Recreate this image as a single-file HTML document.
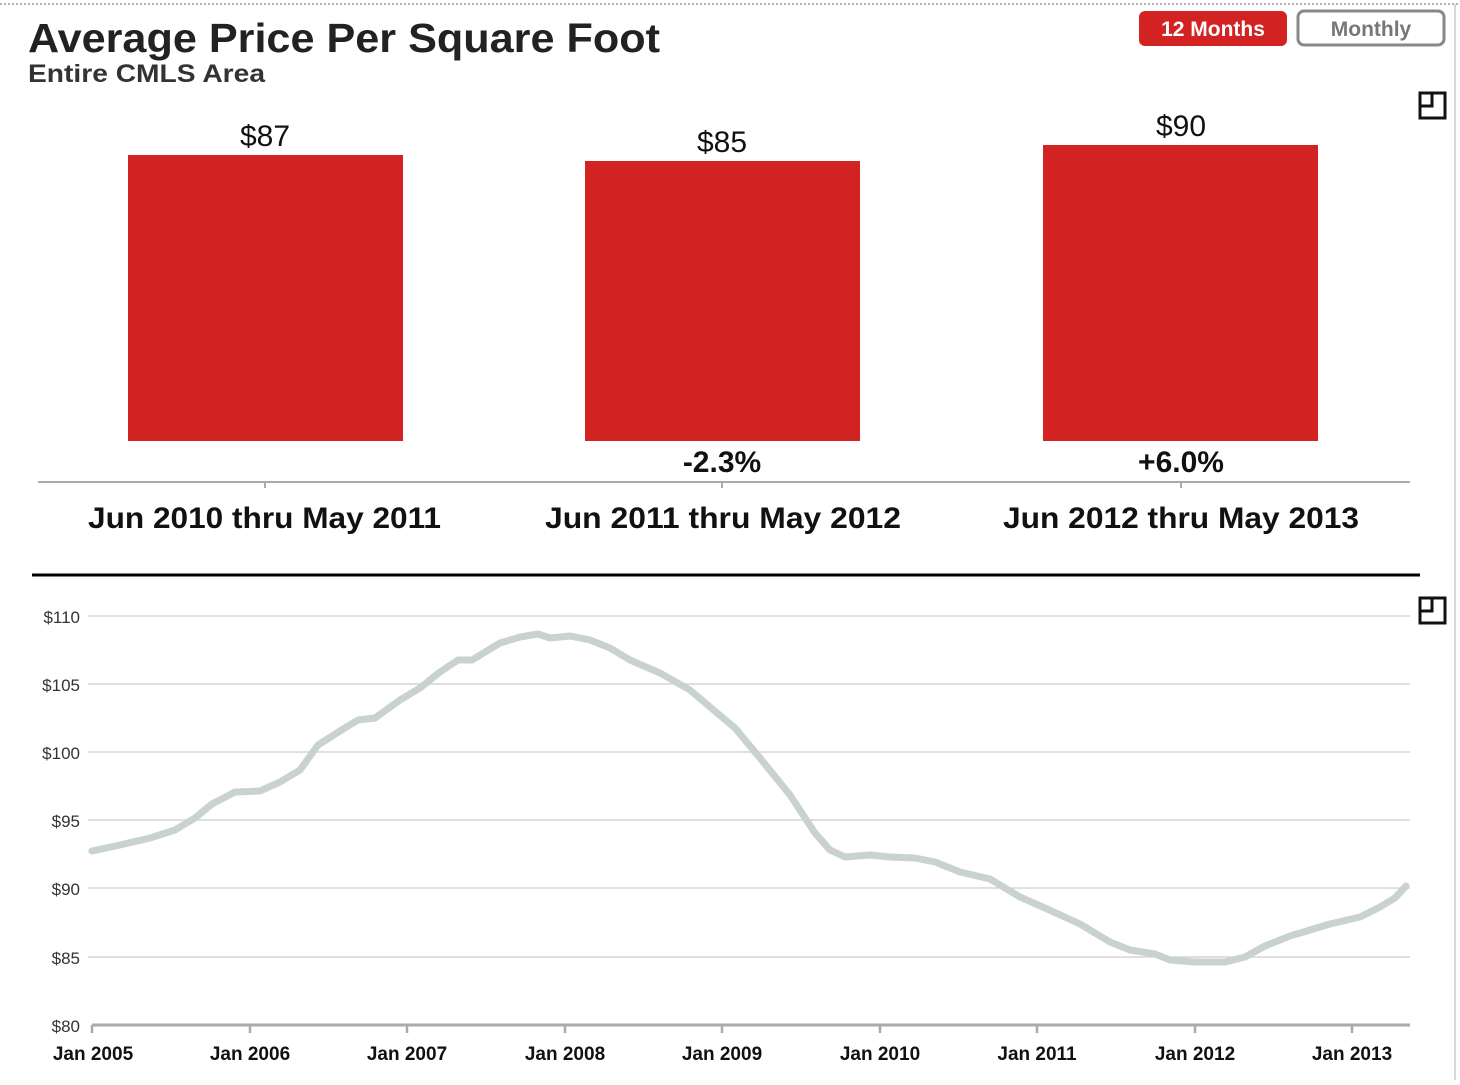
<!DOCTYPE html>
<html><head><meta charset="utf-8"><style>
body{margin:0;width:1460px;height:1080px;background:#fff;overflow:hidden;font-family:"Liberation Sans",sans-serif;}
</style></head><body>
<svg width="1460" height="1080" xmlns="http://www.w3.org/2000/svg" font-family="Liberation Sans, sans-serif">
<line x1="0" y1="4" x2="1460" y2="4" stroke="#999" stroke-width="1.5" stroke-dasharray="2,2"/>
<line x1="1455" y1="4" x2="1455" y2="1080" stroke="#ccc" stroke-width="1.5"/>
<text x="28" y="52" font-size="41" font-weight="bold" fill="#222" textLength="632" lengthAdjust="spacingAndGlyphs">Average Price Per Square Foot</text>
<text x="28" y="82" font-size="25" font-weight="bold" fill="#333" textLength="237" lengthAdjust="spacingAndGlyphs">Entire CMLS Area</text>
<rect x="1139" y="11" width="148" height="35" rx="6" fill="#d22222"/>
<text x="1213" y="36" font-size="21" font-weight="bold" fill="#fff" text-anchor="middle">12 Months</text>
<rect x="1298" y="11" width="146" height="34" rx="6" fill="#fff" stroke="#888" stroke-width="3"/>
<text x="1371" y="36" font-size="21" font-weight="bold" fill="#777" text-anchor="middle">Monthly</text>
<g fill="none" stroke="#111" stroke-width="3">
<rect x="1420" y="93" width="25" height="25"/><polyline points="1420,106 1432,106 1432,93"/>
<rect x="1420" y="598" width="25" height="25"/><polyline points="1420,611 1432,611 1432,598"/>
</g>
<rect x="128" y="155" width="275" height="286" fill="#d22222"/>
<rect x="585" y="161" width="275" height="280" fill="#d22222"/>
<rect x="1043" y="145" width="275" height="296" fill="#d22222"/>
<g font-size="30" fill="#111" text-anchor="middle">
<text x="265" y="146">$87</text><text x="722" y="152">$85</text><text x="1181" y="136">$90</text>
</g>
<g font-size="30" font-weight="bold" fill="#111">
<text x="722" y="472" text-anchor="middle">-2.3%</text><text x="1181" y="472" text-anchor="middle">+6.0%</text>
<text x="88" y="528" textLength="353" lengthAdjust="spacingAndGlyphs">Jun 2010 thru May 2011</text>
<text x="545" y="528" textLength="356" lengthAdjust="spacingAndGlyphs">Jun 2011 thru May 2012</text>
<text x="1003" y="528" textLength="356" lengthAdjust="spacingAndGlyphs">Jun 2012 thru May 2013</text>
</g>
<line x1="38" y1="482" x2="1410" y2="482" stroke="#aaa" stroke-width="2"/>
<g stroke="#aaa" stroke-width="2"><line x1="265" y1="482" x2="265" y2="488"/><line x1="722" y1="482" x2="722" y2="488"/><line x1="1181" y1="482" x2="1181" y2="488"/></g>
<line x1="32" y1="575" x2="1420" y2="575" stroke="#000" stroke-width="3"/>
<g stroke="#ccc" stroke-width="1.2">
<line x1="88" y1="616" x2="1410" y2="616"/><line x1="88" y1="684" x2="1410" y2="684"/><line x1="88" y1="752" x2="1410" y2="752"/><line x1="88" y1="820" x2="1410" y2="820"/><line x1="88" y1="888" x2="1410" y2="888"/><line x1="88" y1="957" x2="1410" y2="957"/>
</g>
<line x1="92" y1="1025" x2="1410" y2="1025" stroke="#aaa" stroke-width="3"/>
<g stroke="#aaa" stroke-width="2.5">
<line x1="92" y1="1025" x2="92" y2="1033"/><line x1="250" y1="1025" x2="250" y2="1033"/><line x1="407" y1="1025" x2="407" y2="1033"/><line x1="565" y1="1025" x2="565" y2="1033"/><line x1="722" y1="1025" x2="722" y2="1033"/><line x1="880" y1="1025" x2="880" y2="1033"/><line x1="1037" y1="1025" x2="1037" y2="1033"/><line x1="1195" y1="1025" x2="1195" y2="1033"/><line x1="1352" y1="1025" x2="1352" y2="1033"/>
</g>
<g font-size="17" fill="#333" text-anchor="end">
<text x="80" y="623">$110</text><text x="80" y="691">$105</text><text x="80" y="759">$100</text><text x="80" y="827">$95</text><text x="80" y="895">$90</text><text x="80" y="964">$85</text><text x="80" y="1032">$80</text>
</g>
<g font-size="19" font-weight="bold" fill="#111" text-anchor="middle">
<text x="93" y="1060">Jan 2005</text><text x="250" y="1060">Jan 2006</text><text x="407" y="1060">Jan 2007</text><text x="565" y="1060">Jan 2008</text><text x="722" y="1060">Jan 2009</text><text x="880" y="1060">Jan 2010</text><text x="1037" y="1060">Jan 2011</text><text x="1195" y="1060">Jan 2012</text><text x="1352" y="1060">Jan 2013</text>
</g>
<polyline fill="none" stroke="#c8d3d0" stroke-width="7" stroke-linejoin="round" stroke-linecap="round" points="92,851 120,845 150,838 175,830 195,818 212,804 235,792 260,791 280,782 300,770 318,745 340,731 358,720 375,718 400,700 420,688 440,672 458,660 472,660 500,643 520,637 538,634 550,638 570,636 590,640 610,648 630,660 660,673 690,690 710,707 735,728 760,758 790,795 815,833 830,850 845,857 870,855 890,857 915,858 935,862 960,872 990,879 1020,897 1045,908 1080,924 1110,942 1130,950 1155,954 1170,960 1195,962 1225,962 1245,957 1265,946 1290,936 1310,930 1330,924 1360,917 1380,907 1395,898 1406,886"/>
</svg>
</body></html>
